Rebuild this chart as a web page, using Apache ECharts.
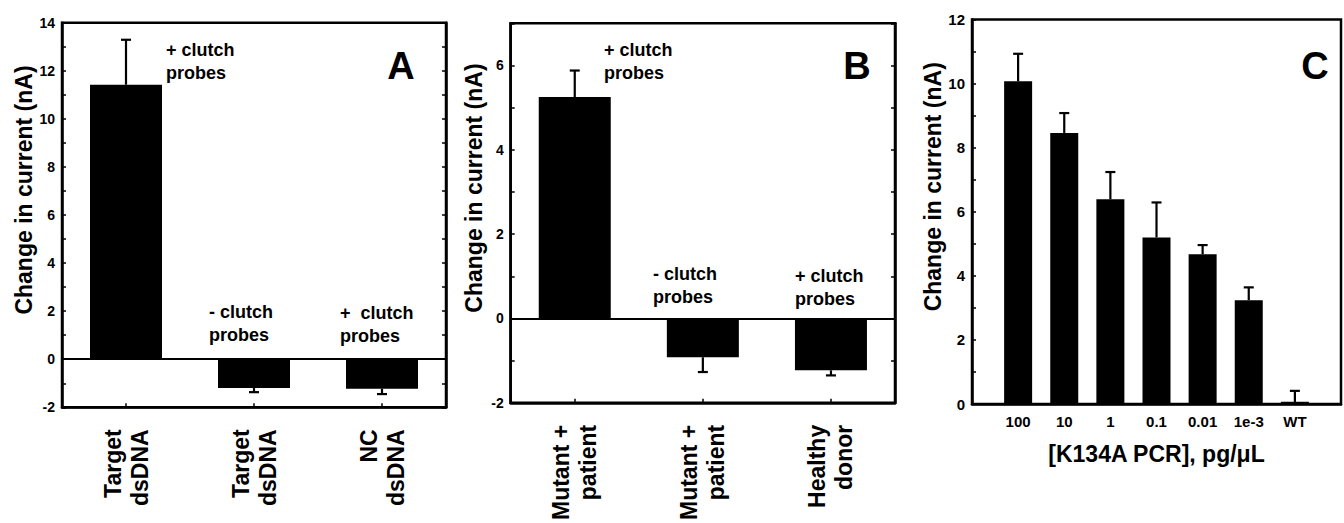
<!DOCTYPE html>
<html><head><meta charset="utf-8">
<script src="https://cdn.jsdelivr.net/npm/echarts@6/dist/echarts.min.js"></script>
<style>html,body{margin:0;padding:0;background:#fff}#c{width:1344px;height:523px}</style>
</head><body><div id="c"></div>
<script>
// ---- data ----
const categoriesA = ['Target\ndsDNA', 'Target\ndsDNA', 'NC\ndsDNA'];
const valuesA = [11.42, -1.2, -1.23];
const errorsA = [1.87, 0.17, 0.22];
const annotationsA = ['+ clutch\nprobes', '- clutch\nprobes', '+  clutch\nprobes'];

const categoriesB = ['Mutant +\npatient', 'Mutant +\npatient', 'Healthy\ndonor'];
const valuesB = [5.25, -0.92, -1.23];
const errorsB = [0.63, 0.35, 0.12];
const annotationsB = ['+ clutch\nprobes', '- clutch\nprobes', '+ clutch\nprobes'];

const categoriesC = ['100', '10', '1', '0.1', '0.01', '1e-3', 'WT'];
const valuesC = [10.07, 8.46, 6.39, 5.2, 4.67, 3.24, 0.07];
const errorsC = [0.86, 0.62, 0.85, 1.09, 0.29, 0.4, 0.34];

const panelLetters = ['A', 'B', 'C'];
const yTitle = 'Change in current (nA)';
const xTitleC = '[K134A PCR], pg/\u03bcL';
const yRangeA = [-2, 14];
const yRangeB = [-2, 7];
const yRangeC = [0, 12];

// ---- chart ----
const FONT = '"Liberation Sans", Arial, Helvetica, sans-serif';
const chart = echarts.init(document.getElementById('c'), null, {renderer: 'svg'});

function errRender(params, api) {
  const x = api.value(0), y = api.value(1), e = api.value(2);
  const end = y >= 0 ? y + e : y - e;
  const p0 = api.coord([x, y]);
  const p1 = api.coord([x, end]);
  const cap = 5;
  return {
    type: 'group',
    children: [
      {type: 'line', shape: {x1: p0[0], y1: p0[1], x2: p1[0], y2: p1[1]}, style: {stroke: '#000', lineWidth: 2.2}},
      {type: 'line', shape: {x1: p1[0] - cap, y1: p1[1], x2: p1[0] + cap, y2: p1[1]}, style: {stroke: '#000', lineWidth: 2.2}}
    ]
  };
}

const evenOnly = v => (Math.round(v) % 2 === 0 ? String(v) : '');

function yAxisLeft(gi, range, fs, gap) {
  return {
    type: 'value', gridIndex: gi, position: 'left', min: range[0], max: range[1], interval: 1,
    name: yTitle, nameLocation: 'middle', nameGap: gap,
    nameTextStyle: {fontSize: 23, fontWeight: 'bold', color: '#000', fontFamily: FONT, padding: [0, 0, 0, 50]},
    axisLine: {show: true, onZero: false, lineStyle: {color: '#000', width: 2.5}},
    axisTick: {show: true, inside: true, length: 4, lineStyle: {color: '#000', width: 1.5}},
    axisLabel: {formatter: evenOnly, fontSize: fs, fontWeight: 'bold', color: '#000', fontFamily: FONT, margin: 7},
    splitLine: {show: false}
  };
}
function yAxisRight(gi, range) {
  return {
    type: 'value', gridIndex: gi, position: 'right', min: range[0], max: range[1], interval: 1,
    axisLine: {show: true, onZero: false, lineStyle: {color: '#000', width: 2.5}},
    axisTick: {show: true, inside: true, length: 4, lineStyle: {color: '#000', width: 1.5}},
    axisLabel: {show: false}, splitLine: {show: false}
  };
}
function xAxisCat(gi, cats) {
  return {
    type: 'category', gridIndex: gi, data: cats, boundaryGap: true,
    axisLine: {show: true, onZero: false, lineStyle: {color: '#000', width: 2.5}},
    axisTick: {show: true, inside: true, alignWithLabel: true, length: 4, lineStyle: {color: '#000', width: 1.5}},
    axisLabel: {rotate: 90, fontSize: 23, fontWeight: 'bold', color: '#000', fontFamily: FONT, lineHeight: 27, margin: 22, interval: 0},
    splitLine: {show: false}
  };
}
const zeroLine = {
  silent: true, symbol: 'none', label: {show: false},
  lineStyle: {color: '#000', width: 2, type: 'solid'}, data: [{yAxis: 0}]
};

const annStyle = {fontSize: 18, fontWeight: 'bold', fill: '#000', fontFamily: FONT, lineHeight: 23, verticalAlign: 'top'};
const letterStyle = {fontSize: 38, fontWeight: 'bold', fill: '#000', fontFamily: FONT, align: 'center', verticalAlign: 'middle'};

const option = {
  animation: false,
  backgroundColor: '#fff',
  textStyle: {fontFamily: FONT, color: '#000'},
  grid: [
    {left: 62, top: 22.7, width: 384, height: 384.6, show: true, borderColor: '#000', borderWidth: 2.5, containLabel: false},
    {left: 510.7, top: 23.3, width: 384.3, height: 384, show: true, borderColor: '#000', borderWidth: 2.5, containLabel: false},
    {left: 972, top: 19.5, width: 382.4, height: 384.5, show: true, borderColor: '#000', borderWidth: 2.5, containLabel: false}
  ],
  xAxis: [
    xAxisCat(0, categoriesA),
    xAxisCat(1, categoriesB),
    {
      type: 'category', gridIndex: 2, data: [''].concat(categoriesC, ['']), boundaryGap: false,
      name: xTitleC, nameLocation: 'middle', nameGap: 38,
      nameTextStyle: {fontSize: 23, fontWeight: 'bold', color: '#000', fontFamily: FONT},
      axisLine: {show: true, onZero: false, lineStyle: {color: '#000', width: 2.5}},
      axisTick: {show: true, inside: true, length: 4, interval: 0, lineStyle: {color: '#000', width: 1.5}},
      axisLabel: {fontSize: 15, fontWeight: 'bold', color: '#000', fontFamily: FONT, margin: 10, interval: 0},
      splitLine: {show: false}
    }
  ],
  yAxis: [
    yAxisLeft(0, yRangeA, 14, 26),
    yAxisRight(0, yRangeA),
    yAxisLeft(1, yRangeB, 14, 25),
    yAxisRight(1, yRangeB),
    yAxisLeft(2, yRangeC, 15, 28)
  ],
  series: [
    {type: 'bar', xAxisIndex: 0, yAxisIndex: 0, data: valuesA, barWidth: 72, itemStyle: {color: '#000'}, markLine: zeroLine},
    {type: 'custom', xAxisIndex: 0, yAxisIndex: 0, renderItem: errRender, encode: {x: 0, y: 1},
      data: valuesA.map((v, i) => [i, v, errorsA[i]]), z: 5},
    {type: 'bar', xAxisIndex: 1, yAxisIndex: 2, data: valuesB, barWidth: 72, itemStyle: {color: '#000'}, markLine: zeroLine},
    {type: 'custom', xAxisIndex: 1, yAxisIndex: 2, renderItem: errRender, encode: {x: 0, y: 1},
      data: valuesB.map((v, i) => [i, v, errorsB[i]]), z: 5},
    {type: 'bar', xAxisIndex: 2, yAxisIndex: 4, data: [null].concat(valuesC, [null]), barWidth: 28, itemStyle: {color: '#000'}},
    {type: 'custom', xAxisIndex: 2, yAxisIndex: 4, renderItem: errRender, encode: {x: 0, y: 1},
      data: valuesC.map((v, i) => [i + 1, v, errorsC[i]]), z: 5}
  ],
  graphic: [
    {type: 'text', x: 166, y: 38.5, style: Object.assign({text: annotationsA[0]}, annStyle)},
    {type: 'text', x: 209, y: 300.5, style: Object.assign({text: annotationsA[1]}, annStyle)},
    {type: 'text', x: 340, y: 301.5, style: Object.assign({text: annotationsA[2]}, annStyle)},
    {type: 'text', x: 604, y: 38, style: Object.assign({text: annotationsB[0]}, annStyle)},
    {type: 'text', x: 653, y: 262.5, style: Object.assign({text: annotationsB[1]}, annStyle)},
    {type: 'text', x: 795, y: 264, style: Object.assign({text: annotationsB[2]}, annStyle)},
    {type: 'text', x: 401, y: 65.5, style: Object.assign({text: panelLetters[0]}, letterStyle)},
    {type: 'text', x: 857, y: 65.5, style: Object.assign({text: panelLetters[1]}, letterStyle)},
    {type: 'text', x: 1315, y: 66, style: Object.assign({text: panelLetters[2]}, letterStyle)}
  ]
};
chart.setOption(option);
</script>
</body></html>
